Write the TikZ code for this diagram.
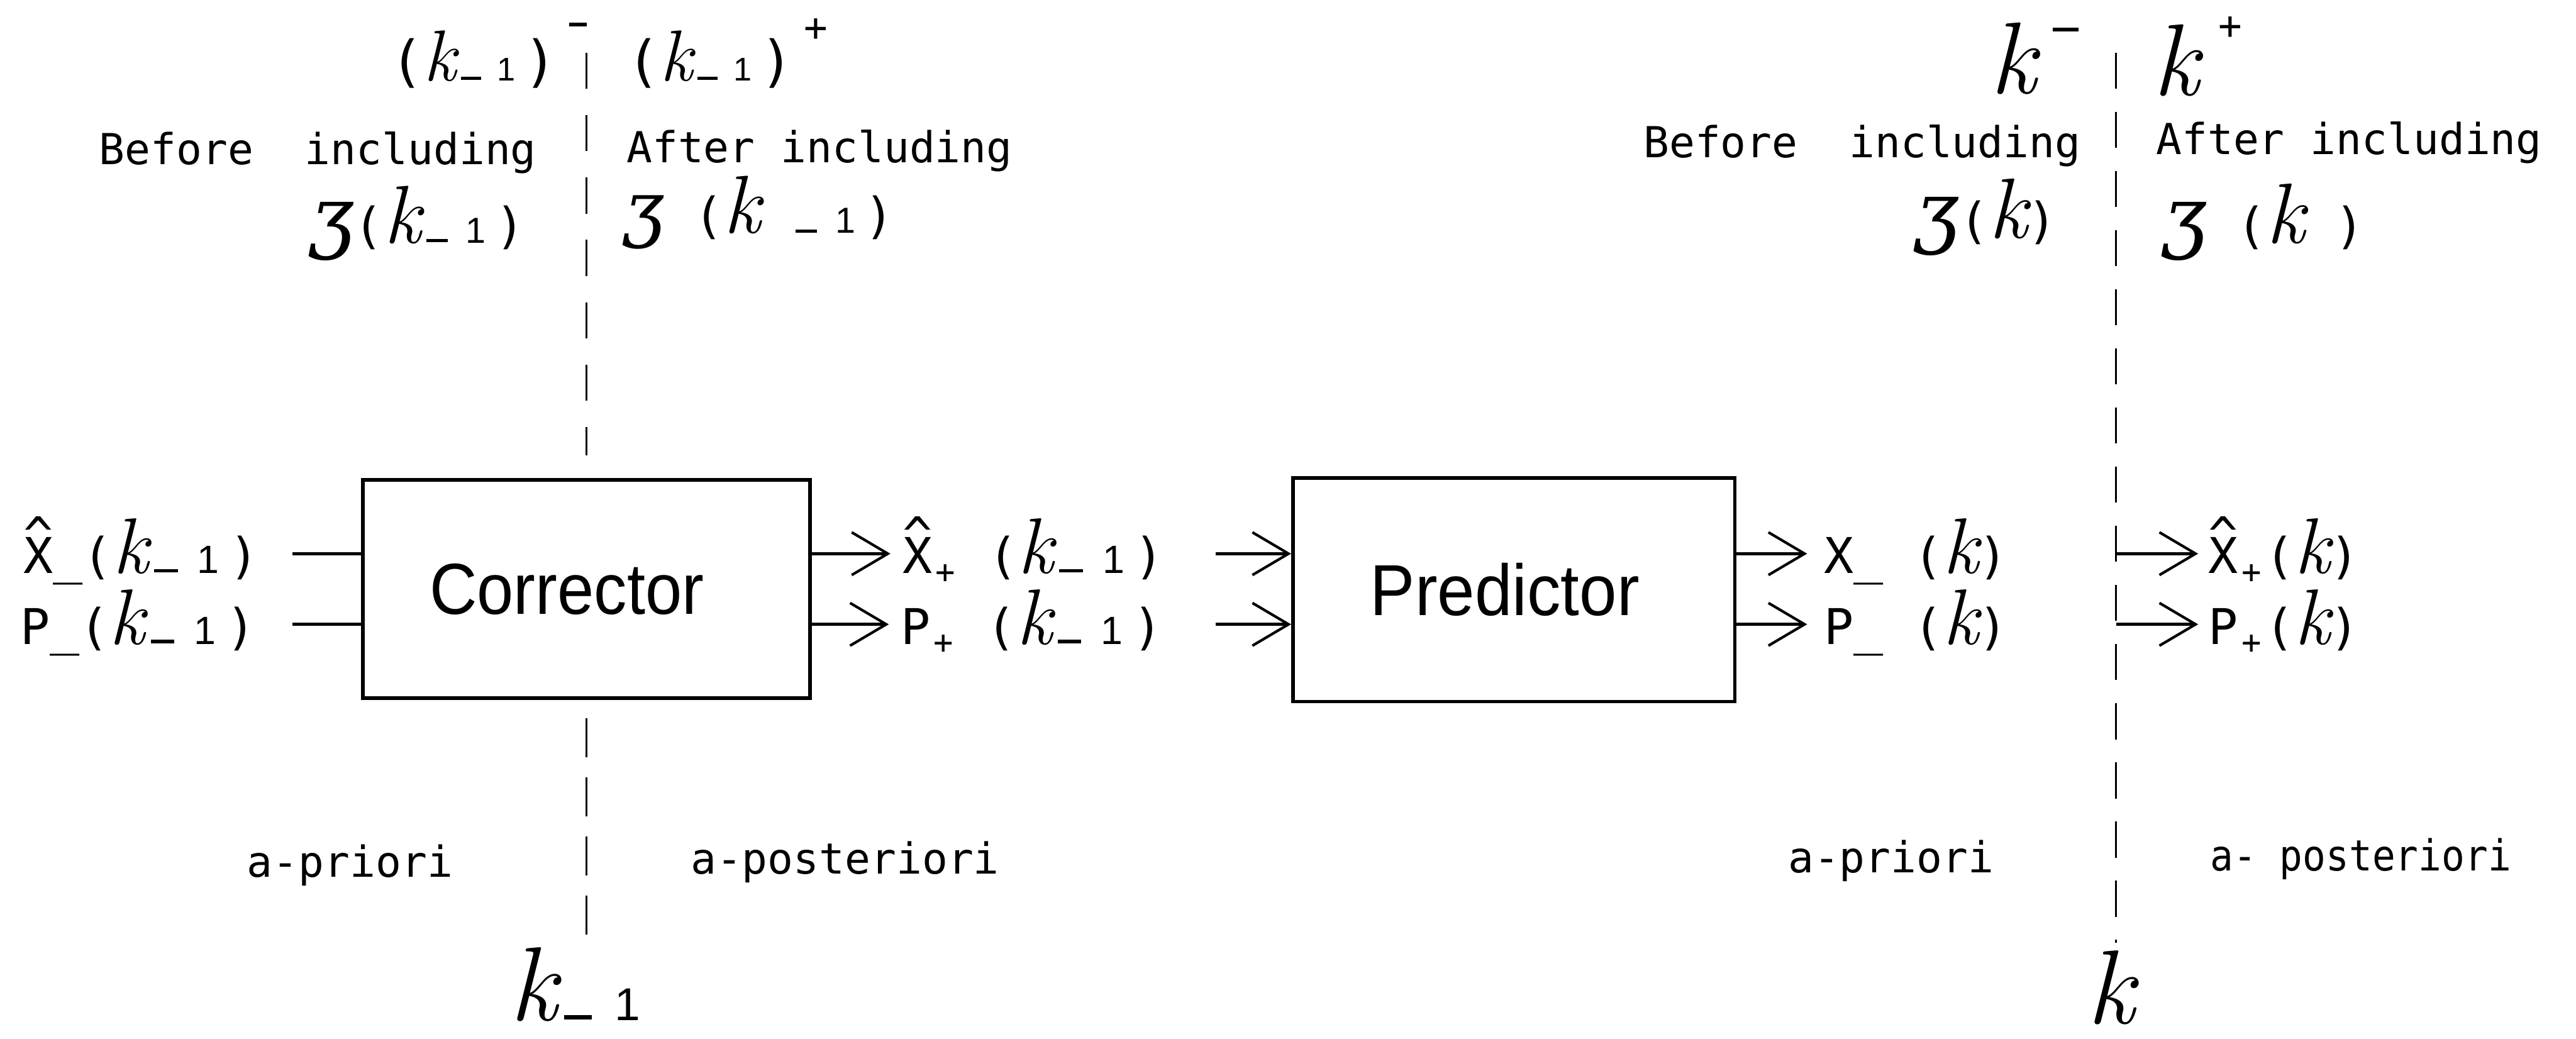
\documentclass[tikz,border=0pt]{standalone}
\usepackage{fontspec}
\usetikzlibrary{arrows.meta}
\newfontfamily\lettering{DejaVu Sans Mono}
\newfontfamily\ezhfont{DejaVu Serif}
\newfontfamily\blockfont{Liberation Sans}

\newcommand{\lsize}[1]{\fontsize{#1}{#1}\selectfont}
% hand-lettered k, lowered "-1", hatted X, small subscript plus, script z
\newcommand{\hk}[1]{{\rmfamily\itshape\lsize{#1}k}}
\newcommand{\mone}[1]{{\lsize{#1}\kern0.15em\rule[0.02em]{0.6em}{0.09em}\kern0.5em{\blockfont 1}\kern0.25em}}
\newcommand{\hatX}{\rlap{\raisebox{0.42em}{\textasciicircum}}X}
\newcommand{\subplus}{{\lsize{10}\kern1pt\raisebox{-0.3em}{+}\kern1pt}}
\newcommand{\ezh}[1]{{\ezhfont\itshape\lsize{#1}ʒ}}

\tikzset{
  divider/.style={line width=0.7pt},
  procbox/.style={draw, line width=1.1pt, inner sep=0pt, font=\blockfont\lsize{22}},
  wire/.style={line width=0.9pt},
  flow/.style={wire, -{Straight Barb[length=11pt,width=13pt,line width=0.8pt]}},
  caption/.style={font=\lettering\lsize{13}, inner sep=0pt, anchor=base west},
  sym/.style={font=\lettering\lsize{15}, inner sep=0pt, anchor=base west},
}

\begin{document}
\begin{tikzpicture}[x=0.5pt, y=-0.5pt]
\useasboundingbox (0,0) rectangle (1568,632.4);

% row heights of the two signal paths
\coordinate (r1) at (0,337);
\coordinate (r2) at (0,380);

% time-instant dividers
\coordinate (d1top) at (357,32);
\coordinate (d1mid) at (357,277);
\coordinate (d1low) at (357,437);
\coordinate (d1bot) at (357,572);
\coordinate (d2top) at (1288,32);
\coordinate (d2bot) at (1288,574);
\draw[divider, dash pattern=on 11pt off 8pt] (d1top) -- (d1mid);
\draw[divider, dash pattern=on 12pt off 6pt] (d1low) -- (d1bot);
\draw[divider, dash pattern=on 11pt off 7pt] (d2top) -- (d2bot);

% blocks
\node[procbox, minimum width=136pt, minimum height=66.5pt] (corr) at (357,358.5)
  {\hspace*{-12pt}\scalebox{0.91}[1]{Corrector}};
\node[procbox, minimum width=134.5pt, minimum height=68pt] (pred) at (921.5,359)
  {\hspace*{-5.5pt}\scalebox{0.93}[1]{Predictor}};

% headings at the first divider
\node[sym, font=\lettering\lsize{17}] (t1) at (237,49)
  {(\hk{22}\mone{10})\kern3.5pt\raisebox{16.5pt}{\rule{5.5pt}{1.1pt}}};
\node[sym, font=\lettering\lsize{17}] (t2) at (381,49)
  {(\hk{22}\mone{10})\kern3pt\raisebox{12pt}{\lsize{12}+}};
\node[caption] (bl) at (60,100) {Before\ \ including};
\node[caption] (al) at (381,99) {After including};
\node[sym] (t5) at (188,148) {\ezh{24}(\hk{25}\mone{11})};
\node[sym] (t6) at (379,142) {\ezh{22}\ (\hk{25}\ \mone{11})};

% headings at the second divider
\node[sym] (t7) at (1211,57) {\hk{31}\kern5pt\raisebox{19pt}{\rule{8pt}{1.1pt}}};
\node[sym] (t8) at (1310,58) {\hk{31}\kern6pt\raisebox{17pt}{\lsize{12}+}};
\node[caption] (br) at (1000,96) {Before\ \ including};
\node[caption] (ar) at (1312,94) {After including};
\node[sym] (t11) at (1165,145) {\ezh{24}(\hk{26})};
\node[sym] (t12) at (1316,148) {\ezh{24}\ (\hk{26}\ )};

% signal labels
\node[sym] (xin) at (14,349) {\hatX\_(\hk{24}\mone{12})};
\node[sym] (pin) at (12,392) {P\_(\hk{24}\mone{12})};
\node[sym] (xo) at (549,349) {\hatX\subplus\ (\hk{24}\mone{12})};
\node[sym] (po) at (548,392) {P\subplus\ (\hk{24}\mone{12})};
\node[sym] (xp) at (1110,349) {X\_\ (\hk{24})};
\node[sym] (pp) at (1110,392) {P\_\ (\hk{24})};
\node[sym] (xf) at (1344,349) {\hatX\subplus(\hk{24})};
\node[sym] (pf) at (1344,392) {P\subplus(\hk{24})};

% bottom captions
\node[caption] (pl) at (150,534) {a-priori};
\node[caption] (ql) at (420,532) {a-posteriori};
\node[caption] (pr) at (1088,531) {a-priori};
\node[caption] (qr) at (1345,530) {\scalebox{0.9}[1]{a- posteriori}};
\node[sym] (t13) at (310,621) {\hk{32}\mone{14}};
\node[sym] (t14) at (1270,623) {\hk{32}};

% free ends of the connectors
\coordinate (in1) at (178,337);
\coordinate (in2) at (178,380);
\coordinate (pi1) at (740,337);
\coordinate (pi2) at (740,380);
\path (xo.west |- r1) ++(-7,0) coordinate (co1);
\path (po.west |- r2) ++(-7,0) coordinate (co2);
\path (xp.west |- r1) ++(-10,0) coordinate (po1);
\path (pp.west |- r2) ++(-10,0) coordinate (po2);
\path (xf.west |- r1) ++(-6,0) coordinate (fo1);
\path (pf.west |- r2) ++(-6,0) coordinate (fo2);

% connectors
\draw[wire] (in1) -- (corr.west |- r1);
\draw[wire] (in2) -- (corr.west |- r2);
\draw[flow] (corr.east |- r1) -- (co1);
\draw[flow] (corr.east |- r2) -- (co2);
\draw[flow] (pi1) -- (pred.west |- r1);
\draw[flow] (pi2) -- (pred.west |- r2);
\draw[flow] (pred.east |- r1) -- (po1);
\draw[flow] (pred.east |- r2) -- (po2);
\draw[flow] (d2top |- r1) -- (fo1);
\draw[flow] (d2top |- r2) -- (fo2);
\end{tikzpicture}
\end{document}
